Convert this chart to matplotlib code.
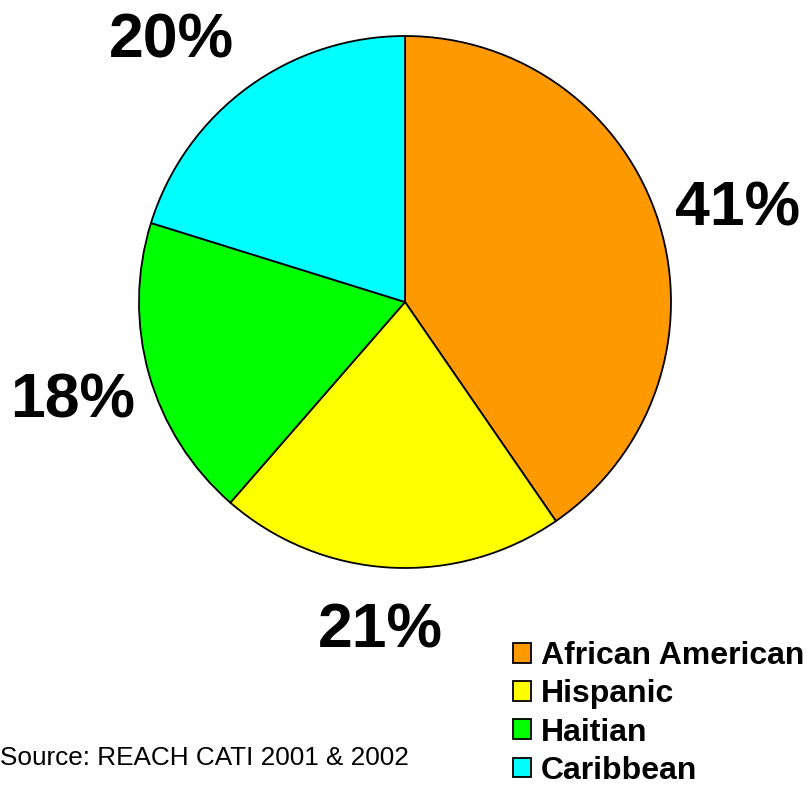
import matplotlib
matplotlib.use("Agg")
import matplotlib.pyplot as plt
import numpy as np

categories = ["African American", "Hispanic", "Haitian", "Caribbean"]
shares = [40.4, 21.0, 18.4, 20.2]          # slice sizes as drawn
pct_labels = ["41%", "21%", "18%", "20%"]  # labels as printed on the chart
colors = ["#FF9900", "#FFFF00", "#00FF00", "#00FFFF"]

# label placement (distance in radii, angle nudge in degrees)
label_dist = [1.305, 1.218, 1.297, 1.332]
label_turn = [-0.7, -1.2, -0.2, 4.8]

plt.rcParams['font.family'] = ['Liberation Sans', 'DejaVu Sans']

fig = plt.figure(figsize=(8.1, 7.88), dpi=100)
ax = fig.add_axes([139 / 810, 1 - 568 / 788, 532 / 810, 532 / 788])

wedges, _ = ax.pie(shares, colors=colors, startangle=90, counterclock=False,
                   radius=1.0, wedgeprops=dict(edgecolor='black', linewidth=1.3))
ax.set_xlim(-1, 1)
ax.set_ylim(-1, 1)
ax.axis('off')

# percentage labels outside each slice
for w, lab, d, t in zip(wedges, pct_labels, label_dist, label_turn):
    mid = np.deg2rad((w.theta1 + w.theta2) / 2 + t)
    ax.annotate(lab, xy=(d * np.cos(mid), d * np.sin(mid)), xytext=(0, -4),
                textcoords='offset points', ha='center', va='center',
                fontsize=45, fontweight='bold', annotation_clip=False)

leg = fig.legend(wedges, categories, loc='upper left', bbox_to_anchor=(513 / 810, 1 - 641 / 788),
                 frameon=False, prop=dict(size=23, weight='bold'),
                 handlelength=0.57, handleheight=0.57, handletextpad=0.31, labelspacing=0.26,
                 borderaxespad=0, borderpad=0)

fig.text(0, 1 - 758 / 788, "Source: REACH CATI 2001 & 2002", fontsize=18.8,
         ha='left', va='center')

fig.savefig("out.png", dpi=100)
